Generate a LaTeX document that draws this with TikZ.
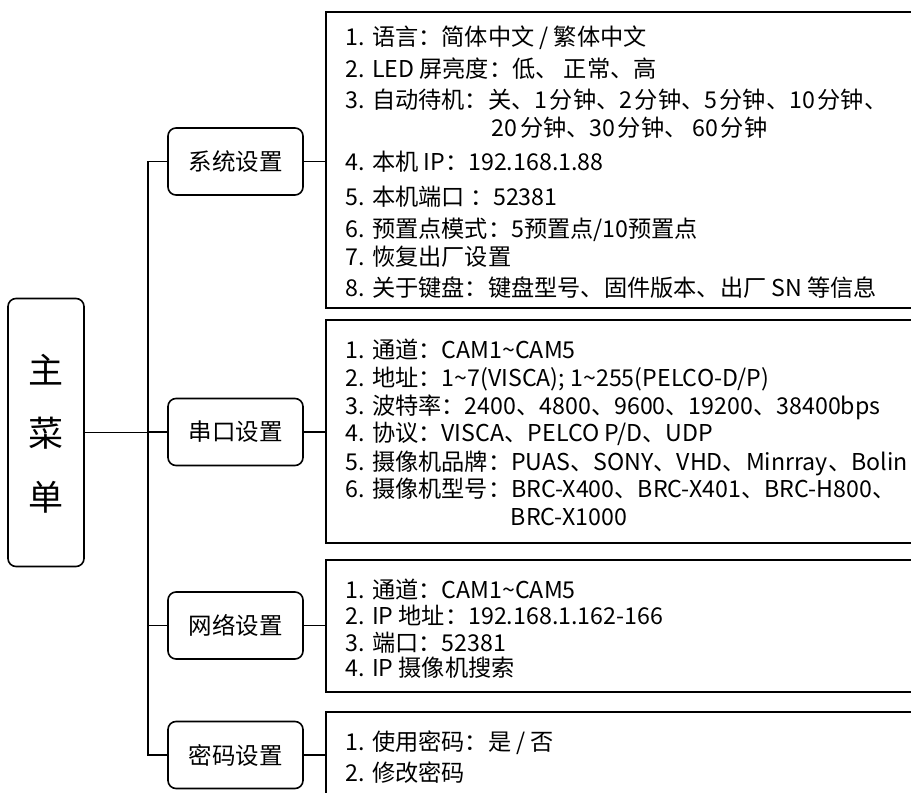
\documentclass[tikz,border=0pt]{standalone}
\usepackage{fontspec}
\setmainfont{Noto Sans CJK SC}
\newcommand{\ts}{\hspace{2.5pt}}
\begin{document}
\begin{tikzpicture}[x=1pt,y=-1pt,line width=1.6pt,
  mainbox/.style={draw,rounded corners=8pt,minimum width=76pt,minimum height=268pt,inner sep=0pt},
  bigchar/.style={inner sep=0pt,font=\fontsize{35}{35}\selectfont},
  sub/.style={draw,rounded corners=8pt,minimum width=135pt,minimum height=67pt,inner sep=0pt,font=\fontsize{23.5}{28}\selectfont},
  panel/.style={draw,anchor=north west,minimum width=620pt,inner sep=0pt},
  item/.style={anchor=base west,inner sep=0pt,font=\fontsize{23.2}{28}\selectfont}]
\useasboundingbox (0,0) rectangle (911,793);
\clip (0,0) rectangle (911,793);
% main menu
\node[mainbox] (main) at (46,432.5) {};
\node[bigchar] (c1) at (46,370) {主};
\node[bigchar] (c2) at (46,433) {菜};
\node[bigchar] (c3) at (46,497) {单};
% sub boxes
\node[sub] (s1) at (235.5,161.5) {系统设置};
\node[sub] (s2) at (235.5,432) {串口设置};
\node[sub] (s3) at (235.5,625.5) {网络设置};
\node[sub] (s4) at (235.5,755) {密码设置};
% panels
\node[panel,minimum height=296pt] (p1) at (325,11) {};
\node[panel,minimum height=223pt] (p2) at (325,319) {};
\node[panel,minimum height=132pt] (p3) at (325,559) {};
\node[panel,minimum height=110pt] (p4) at (325,711) {};
% spine
\coordinate (st) at (148,161.5);
\draw (s1.west) -- (s1.west -| st) -- (s4.west -| st) -- (s4.west);
\draw (main.east) -- (main.east -| st);
\draw (s2.west) -- (s2.west -| st);
\draw (s3.west) -- (s3.west -| st);
\draw (s1.east) -- (s1.east -| p1.west);
\draw (s2.east) -- (s2.east -| p2.west);
\draw (s3.east) -- (s3.east -| p3.west);
\draw (s4.east) -- (s4.east -| p4.west);
% panel 1 items
\node[item] (a1) at (345,45.5) {1. 语言：简体中文 / 繁体中文};
\node[item] (a2) at (345,77.5) {2. LED 屏亮度：低、 正常、高};
\node[item] (a3) at (345,108.5) {3. 自动待机：关、1\ts 分钟、2\ts 分钟、5\ts 分钟、10\ts 分钟、};
\node[item] (a3b) at (491,136.5) {20\ts 分钟、30\ts 分钟、 60\ts 分钟};
\node[item] (a4) at (345,170.5) {4. 本机 IP：192.168.1.88};
\node[item] (a5) at (345,205.5) {5. 本机端口 ：52381};
\node[item] (a6) at (345,237.5) {6. 预置点模式：5预置点/10预置点};
\node[item] (a7) at (345,265.5) {7. 恢复出厂设置};
\node[item] (a8) at (345,296.5) {8. 关于键盘：键盘型号、固件版本、出厂 SN 等信息};
% panel 2 items
\node[item] (b1) at (345,358.5) {1. 通道：CAM1\textasciitilde CAM5};
\node[item] (b2) at (345,386.5) {2. 地址：1\textasciitilde 7(VISCA); 1\textasciitilde 255(PELCO-D/P)};
\node[item] (b3) at (345,414.5) {3. 波特率：2400、4800、9600、19200、38400bps};
\node[item] (b4) at (345,441.5) {4. 协议：VISCA、PELCO P/D、UDP};
\node[item] (b5) at (345,470.5) {5. 摄像机品牌：PUAS、SONY、VHD、Minrray、Bolin};
\node[item] (b6) at (345,497.5) {6. 摄像机型号：BRC-X400、BRC-X401、BRC-H800、};
\node[item] (b6b) at (510,525.5) {BRC-X1000};
% panel 3 items
\node[item] (n1) at (345,598.5) {1. 通道：CAM1\textasciitilde CAM5};
\node[item] (n2) at (345,624.5) {2. IP 地址：192.168.1.162-166};
\node[item] (n3) at (345,651.5) {3. 端口：52381};
\node[item] (n4) at (345,676.5) {4. IP 摄像机搜索};
% panel 4 items
\node[item] (m1) at (345,750.5) {1. 使用密码：是 / 否};
\node[item] (m2) at (345,781.5) {2. 修改密码};
\end{tikzpicture}
\end{document}
